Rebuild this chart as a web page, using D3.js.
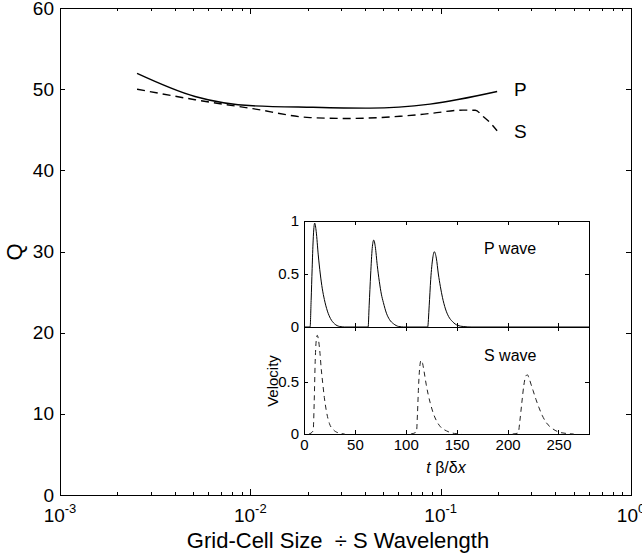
<!DOCTYPE html>
<html>
<head>
<meta charset="utf-8">
<script src="https://cdn.jsdelivr.net/npm/d3@7"></script>
<style>
  body { margin: 0; background: #fff; }
  text { font-family: "Liberation Sans", Arial, Helvetica, sans-serif; fill: #000; }
  .axis path, .axis line { stroke: #000; shape-rendering: crispEdges; }
</style>
</head>
<body>
<div id="chart"></div>
<script>
// main plot: Q against grid-cell size / S wavelength
const ratioP = [0.00254, 0.00512, 0.0103, 0.0213, 0.0425, 0.0879, 0.198];
const qP     = [51.95, 49.1, 47.95, 47.77, 47.67, 48.16, 49.71];
const ratioS = [0.00254, 0.00512, 0.0103, 0.0206, 0.0323, 0.0612, 0.0879, 0.131, 0.152, 0.167, 0.182, 0.198];
const qS     = [50.0, 48.7, 47.6, 46.5, 46.39, 46.66, 47.0, 47.42, 47.4, 46.64, 45.86, 44.88];
const qTicks = [0, 10, 20, 30, 40, 50, 60];
const decades = [1e-3, 1e-2, 1e-1, 1];
const decadeExp = ["-3", "-2", "-1", "0"];

// inset: velocity pulses, [t beta/dx, velocity]
const pulseP1 = [[0,0],[6,0],[7,0.25],[8,0.55],[9,0.82],[10.5,0.98],[12,0.9],[14,0.68],[16,0.5],[18,0.36],[20,0.26],[23,0.15],[26,0.08],[30,0.03],[35,0.005],[40,0]];
const pulseP2 = [[40,0],[63,0],[64,0.2],[65.5,0.5],[67,0.74],[68.5,0.82],[70,0.76],[72,0.58],[74,0.43],[76,0.31],[78,0.23],[81,0.13],[84,0.07],[88,0.03],[93,0.005],[98,0]];
const pulseP3 = [[98,0],[121.5,0],[123,0.2],[124.5,0.45],[126.5,0.65],[128,0.71],[130,0.65],[132,0.5],[134,0.38],[136,0.28],[139,0.17],[142,0.1],[146,0.05],[151,0.015],[157,0.004],[165,0],[280,0]];
const pulseS1 = [[5,0],[9,0.03],[10,0.3],[11,0.7],[12,0.9],[13,0.95],[14,0.92],[15.5,0.8],[17,0.62],[18.5,0.48],[20,0.35],[22,0.22],[25,0.1],[29,0.04],[34,0.01],[40,0]];
const pulseS2 = [[105,0],[110.5,0.02],[111.5,0.2],[112.5,0.45],[113.5,0.62],[115,0.71],[116.5,0.68],[118,0.6],[120,0.48],[122,0.38],[124,0.3],[127,0.2],[130,0.13],[134,0.07],[140,0.03],[148,0.005],[155,0]];
const pulseS3 = [[205,0],[210.5,0.01],[212,0.12],[214,0.3],[216,0.47],[218,0.56],[219.5,0.57],[221,0.54],[223,0.48],[225,0.42],[228,0.33],[231,0.25],[234,0.18],[238,0.11],[243,0.06],[250,0.02],[258,0.005],[265,0]];
const tTicks = [0, 50, 100, 150, 200, 250];
const vTicksTop = [0, 0.5, 1];
const vTicksBottom = [0, 0.5];

const width = 642, height = 558;
const svg = d3.select("#chart").append("svg")
  .attr("width", width)
  .attr("height", height);

// ---- main axes ----
const mLeft = 60, mRight = 631, mTop = 8, mBottom = 495;
const x = d3.scaleLog().domain([1e-3, 1]).range([mLeft, mRight]);
const y = d3.scaleLinear().domain([0, 60]).range([mBottom, mTop]);

let minors = [];
decades.slice(0, 3).forEach(d => { for (let k = 2; k <= 9; k++) minors.push(d * k); });

function noLabel() { return ""; }

svg.append("g").attr("class", "axis").attr("transform", `translate(0,${mBottom})`)
  .call(d3.axisBottom(x).tickValues(decades).tickSize(-6).tickSizeOuter(0).tickFormat(noLabel));
svg.append("g").attr("class", "axis").attr("transform", `translate(0,${mBottom})`)
  .call(d3.axisBottom(x).tickValues(minors).tickSize(-3).tickSizeOuter(0).tickFormat(noLabel));
svg.append("g").attr("class", "axis").attr("transform", `translate(0,${mTop})`)
  .call(d3.axisTop(x).tickValues(decades).tickSize(-6).tickSizeOuter(0).tickFormat(noLabel));
svg.append("g").attr("class", "axis").attr("transform", `translate(0,${mTop})`)
  .call(d3.axisTop(x).tickValues(minors).tickSize(-3).tickSizeOuter(0).tickFormat(noLabel));
svg.append("g").attr("class", "axis").attr("transform", `translate(${mLeft},0)`)
  .call(d3.axisLeft(y).tickValues(qTicks).tickSize(-5).tickSizeOuter(0).tickPadding(6))
  .call(g => g.selectAll("text").style("font-size", "19px"));
svg.append("g").attr("class", "axis").attr("transform", `translate(${mRight},0)`)
  .call(d3.axisRight(y).tickValues(qTicks).tickSize(-5).tickSizeOuter(0).tickFormat(noLabel));

// decade labels with superscripts
const xLab = svg.append("g").selectAll("text").data(decades).enter().append("text")
  .attr("x", d => x(d))
  .attr("y", 522)
  .attr("text-anchor", "middle")
  .style("font-size", "19px");
xLab.append("tspan").text("10");
xLab.append("tspan").attr("dy", -9).style("font-size", "13px").text((d, i) => decadeExp[i]);

svg.append("text")
  .attr("x", 338).attr("y", 548)
  .attr("text-anchor", "middle")
  .style("font-size", "22px")
  .style("white-space", "pre")
  .text("Grid-Cell Size  \u00f7 S Wavelength");

svg.append("text")
  .attr("transform", "translate(22,252) rotate(-90)")
  .attr("text-anchor", "middle")
  .style("font-size", "22px")
  .text("Q");

const mainLine = d3.line()
  .x(d => x(d[0]))
  .y(d => y(d[1]))
  .curve(d3.curveMonotoneX);

svg.append("path")
  .attr("d", mainLine(d3.zip(ratioP, qP)))
  .attr("fill", "none").attr("stroke", "#000").attr("stroke-width", 1.4);
svg.append("path")
  .attr("d", mainLine(d3.zip(ratioS, qS)))
  .attr("fill", "none").attr("stroke", "#000").attr("stroke-width", 1.4)
  .attr("stroke-dasharray", "8,5");

svg.append("text").attr("x", 514).attr("y", 96).style("font-size", "19px").text("P");
svg.append("text").attr("x", 514).attr("y", 138).style("font-size", "19px").text("S");

// ---- inset ----
const iLeft = 304, iRight = 589, iTop = 221, iMid = 327, iBottom = 434;
const t = d3.scaleLinear().domain([0, 280]).range([iLeft, iRight]);
const vTop = d3.scaleLinear().domain([0, 1]).range([iMid, iTop]);
const vBot = d3.scaleLinear().domain([0, 1.03]).range([iBottom, iMid]);

svg.append("rect")
  .attr("x", iLeft).attr("y", iTop)
  .attr("width", iRight - iLeft).attr("height", iBottom - iTop)
  .attr("fill", "#fff");

function panel(yScale, y0, y1, vTicks, showX) {
  svg.append("g").attr("class", "axis").attr("transform", `translate(0,${y0})`)
    .call(d3.axisBottom(t).tickValues(tTicks).tickSize(-4).tickSizeOuter(0).tickPadding(5)
      .tickFormat(showX ? d3.format("d") : noLabel))
    .call(g => g.selectAll("text").style("font-size", "15px"));
  svg.append("g").attr("class", "axis").attr("transform", `translate(0,${y1})`)
    .call(d3.axisTop(t).tickValues(tTicks).tickSize(-4).tickSizeOuter(0).tickFormat(noLabel));
  svg.append("g").attr("class", "axis").attr("transform", `translate(${iLeft},0)`)
    .call(d3.axisLeft(yScale).tickValues(vTicks).tickSize(-4).tickSizeOuter(0).tickPadding(5)
      .tickFormat(d3.format("~g")))
    .call(g => g.selectAll("text").style("font-size", "15px"));
  svg.append("g").attr("class", "axis").attr("transform", `translate(${iRight},0)`)
    .call(d3.axisRight(yScale).tickValues(vTicks).tickSize(-4).tickSizeOuter(0).tickFormat(noLabel));
}
panel(vTop, iMid, iTop, vTicksTop, false);
panel(vBot, iBottom, iMid, vTicksBottom, true);

const lineTop = d3.line().x(d => t(d[0])).y(d => vTop(d[1])).curve(d3.curveMonotoneX);
const lineBot = d3.line().x(d => t(d[0])).y(d => vBot(d[1])).curve(d3.curveMonotoneX);

[pulseP1, pulseP2, pulseP3].forEach(p => {
  svg.append("path").attr("d", lineTop(p))
    .attr("fill", "none").attr("stroke", "#000").attr("stroke-width", 1);
});
[pulseS1, pulseS2, pulseS3].forEach(p => {
  svg.append("path").attr("d", lineBot(p))
    .attr("fill", "none").attr("stroke", "#222").attr("stroke-width", 1)
    .attr("stroke-dasharray", "5,4");
});

svg.append("text").attr("x", 484).attr("y", 254).style("font-size", "16px").text("P wave");
svg.append("text").attr("x", 484).attr("y", 361).style("font-size", "16px").text("S wave");

svg.append("text")
  .attr("transform", "translate(278,381) rotate(-90)")
  .attr("text-anchor", "middle")
  .style("font-size", "15px")
  .text("Velocity");

const tl = svg.append("text")
  .attr("x", 446).attr("y", 473)
  .attr("text-anchor", "middle")
  .style("font-size", "16px");
tl.append("tspan").style("font-style", "italic").text("t");
tl.append("tspan").text(" \u03b2/\u03b4");
tl.append("tspan").style("font-style", "italic").text("x");
</script>
</body>
</html>
